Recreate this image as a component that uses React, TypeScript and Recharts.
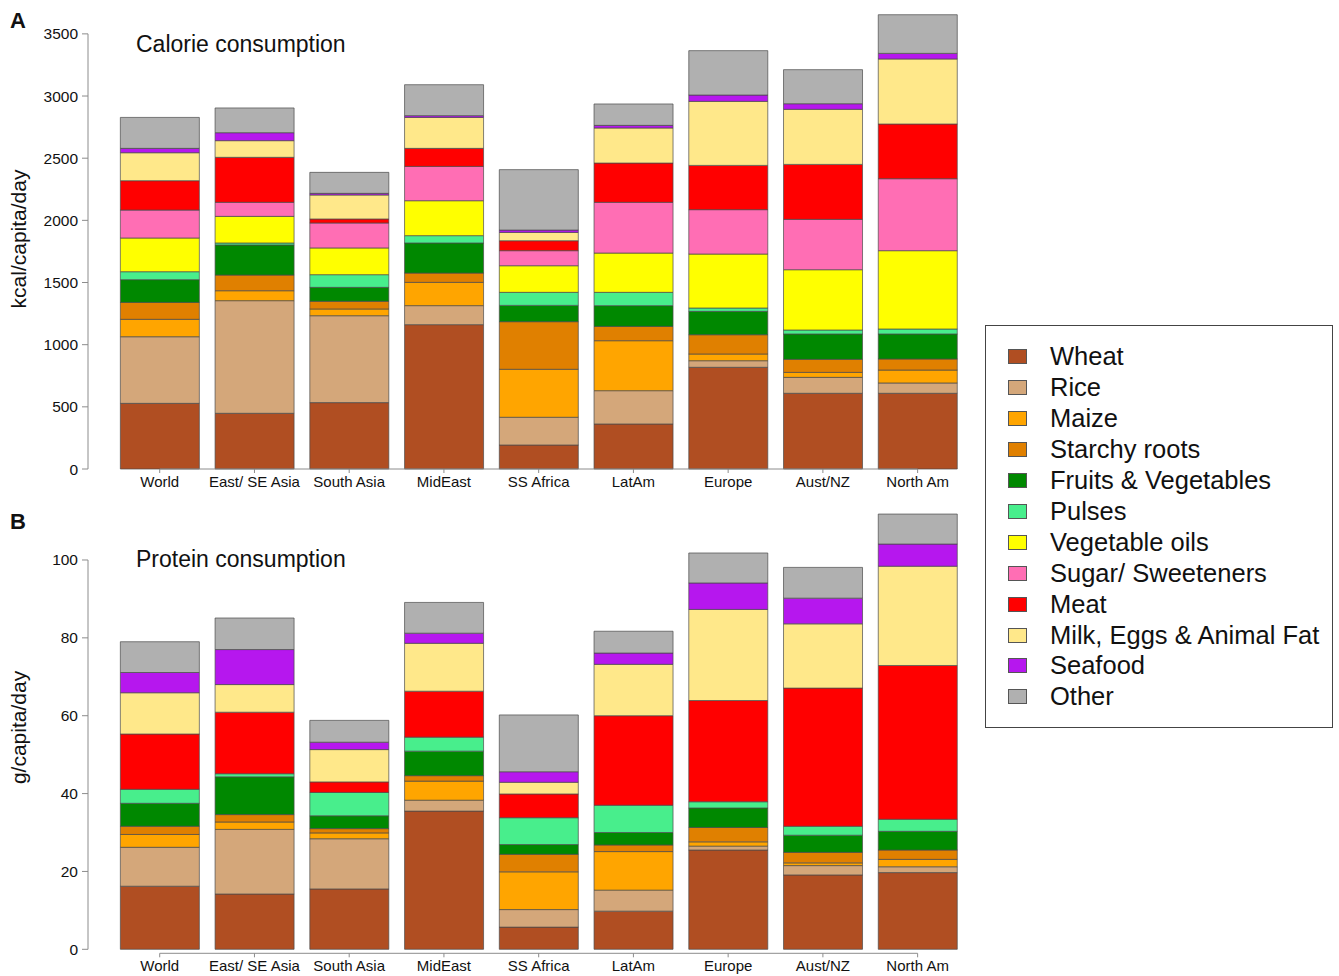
import React from 'react';
import { BarChart, Bar, XAxis, YAxis, ReferenceLine } from 'recharts';

const regions = ['World', 'East/ SE Asia', 'South Asia', 'MidEast', 'SS Africa', 'LatAm', 'Europe', 'Aust/NZ', 'North Am'];

const foodGroups = [
  'Wheat', 'Rice', 'Maize', 'Starchy roots', 'Fruits & Vegetables', 'Pulses',
  'Vegetable oils', 'Sugar/ Sweeteners', 'Meat', 'Milk, Eggs & Animal Fat', 'Seafood', 'Other',
];

const groupColors = [
  '#b04e22', '#d4a77a', '#ffa500', '#e08000', '#008800', '#48ee8c',
  '#ffff00', '#ff6eb4', '#ff0000', '#ffe88a', '#b617ee', '#b0b0b0',
];

// calories, kcal/capita/day
const kcalWheat = [528, 448, 534, 1161, 193, 362, 818, 609, 609];
const kcalRice = [536, 906, 699, 153, 223, 268, 53, 128, 83];
const kcalMaize = [140, 80, 54, 187, 386, 402, 54, 40, 104];
const kcalRoots = [136, 126, 62, 75, 383, 115, 155, 105, 89];
const kcalFruitVeg = [183, 242, 112, 242, 131, 167, 188, 204, 201];
const kcalPulses = [64, 16, 102, 59, 105, 107, 27, 32, 40];
const kcalVegOils = [271, 214, 215, 281, 214, 316, 434, 485, 630];
const kcalSugar = [225, 113, 201, 276, 121, 408, 357, 405, 579];
const kcalMeat = [236, 362, 32, 145, 80, 316, 356, 442, 440];
const kcalMilk = [225, 134, 193, 249, 67, 282, 515, 443, 523];
const kcalSeafood = [35, 64, 13, 14, 19, 21, 51, 45, 45];
const kcalOther = [249, 199, 169, 249, 486, 172, 357, 274, 311];

// protein, g/capita/day
const protWheat = [16.2, 14.2, 15.5, 35.5, 5.7, 9.8, 25.5, 19.1, 19.7];
const protRice = [10.0, 16.6, 12.9, 2.8, 4.5, 5.4, 1.0, 2.4, 1.5];
const protMaize = [3.3, 1.9, 1.5, 4.9, 9.7, 9.9, 1.1, 0.7, 1.9];
const protRoots = [2.1, 1.9, 1.1, 1.4, 4.5, 1.7, 3.7, 2.7, 2.4];
const protFruitVeg = [5.9, 9.7, 3.3, 6.3, 2.5, 3.2, 5.0, 4.4, 4.8];
const protPulses = [3.6, 0.8, 6.0, 3.6, 6.9, 7.0, 1.6, 2.3, 3.1];
const protVegOils = [0, 0, 0, 0, 0, 0, 0, 0, 0];
const protSugar = [0, 0, 0, 0, 0, 0, 0, 0, 0];
const protMeat = [14.2, 15.8, 2.7, 11.8, 6.1, 23.0, 26.0, 35.5, 39.5];
const protMilk = [10.6, 7.1, 8.3, 12.3, 3.0, 13.2, 23.4, 16.5, 25.5];
const protSeafood = [5.2, 9.0, 1.9, 2.6, 2.7, 2.9, 6.8, 6.6, 5.7];
const protOther = [7.9, 8.1, 5.6, 7.9, 14.6, 5.6, 7.7, 7.9, 7.7];

const kcalTicks = [0, 500, 1000, 1500, 2000, 2500, 3000, 3500];
const protTicks = [0, 20, 40, 60, 80, 100];

const kcalSeries = [kcalWheat, kcalRice, kcalMaize, kcalRoots, kcalFruitVeg, kcalPulses, kcalVegOils, kcalSugar, kcalMeat, kcalMilk, kcalSeafood, kcalOther];
const protSeries = [protWheat, protRice, protMaize, protRoots, protFruitVeg, protPulses, protVegOils, protSugar, protMeat, protMilk, protSeafood, protOther];

const buildRows = (series: number[][]) =>
  regions.map((name, i) => {
    const row: any = { idx: i, name };
    series.forEach((s, k) => { row['g' + k] = s[i]; });
    return row;
  });

const FONT = '"Liberation Sans", Arial, Helvetica, sans-serif';
const AXIS = '#8c8c8c';
const X_MIN = -0.757;
const X_MAX = 8.5;

const Panel = ({ rows, ticks, yMax, yLabel, height, top, xAxisH, drop, dropValue }: any) => (
  <BarChart
    width={980}
    height={height}
    data={rows}
    margin={{ top, right: 15, bottom: 0, left: 0 }}
  >
    <XAxis
      type="number"
      dataKey="idx"
      domain={[X_MIN, X_MAX]}
      ticks={regions.map((_, i) => i)}
      interval={0}
      tickFormatter={(v: number) => regions[v]}
      axisLine={false}
      tickLine={{ stroke: AXIS }}
      tickSize={4}
      tickMargin={3}
      height={xAxisH}
      tick={{ fill: '#111', fontSize: 15, fontFamily: FONT }}
    />
    <YAxis
      type="number"
      domain={[0, yMax]}
      ticks={ticks}
      interval={0}
      width={88}
      axisLine={false}
      tickLine={{ stroke: AXIS }}
      tickSize={6}
      tickMargin={4}
      padding={{ top: 0, bottom: drop }}
      tick={{ fill: '#111', fontSize: 15.5, fontFamily: FONT }}
      label={{
        value: yLabel,
        angle: -90,
        position: 'insideLeft',
        offset: 19,
        style: { textAnchor: 'middle', fontSize: 21, fontFamily: FONT, fill: '#111' },
      }}
    />
    <ReferenceLine
      segment={[{ x: X_MIN, y: 0 }, { x: X_MIN, y: ticks[ticks.length - 1] }]}
      stroke={AXIS}
      ifOverflow="visible"
    />
    <ReferenceLine
      segment={[{ x: 0, y: dropValue }, { x: regions.length - 1, y: dropValue }]}
      stroke={AXIS}
      ifOverflow="visible"
    />
    {foodGroups.map((g, k) => (
      <Bar
        key={g}
        dataKey={'g' + k}
        name={g}
        stackId="diet"
        fill={groupColors[k]}
        stroke="#4a4a4a"
        strokeWidth={0.7}
        barSize={79}
        isAnimationActive={false}
      />
    ))}
  </BarChart>
);

const textBase: React.CSSProperties = { position: 'absolute', fontFamily: FONT, color: '#111', whiteSpace: 'nowrap' };

export default function App() {
  return (
    <div style={{ position: 'absolute', left: 0, top: 0, width: 1339, height: 976, background: '#fff', overflow: 'hidden' }}>
      <div style={{ position: 'absolute', left: 0, top: 0 }}>
        <Panel rows={buildRows(kcalSeries)} ticks={kcalTicks} yMax={3700} yLabel="kcal/capita/day"
          height={500} top={9} xAxisH={31} drop={0} dropValue={0} />
      </div>
      <div style={{ position: 'absolute', left: 0, top: 500 }}>
        <Panel rows={buildRows(protSeries)} ticks={protTicks} yMax={115} yLabel="g/capita/day"
          height={490} top={1.6} xAxisH={36.7} drop={4} dropValue={-1.03} />
      </div>

      <div style={{ ...textBase, left: 10, top: 8, fontSize: 22, fontWeight: 'bold', lineHeight: '26px' }}>A</div>
      <div style={{ ...textBase, left: 10, top: 509, fontSize: 22, fontWeight: 'bold', lineHeight: '26px' }}>B</div>
      <div style={{ ...textBase, left: 136, top: 31, fontSize: 23, lineHeight: '26px' }}>Calorie consumption</div>
      <div style={{ ...textBase, left: 136, top: 546, fontSize: 23, lineHeight: '26px' }}>Protein consumption</div>

      <div style={{ position: 'absolute', left: 985, top: 325, width: 348, height: 403, border: '1px solid #444', boxSizing: 'border-box' }}>
        {foodGroups.map((g, k) => (
          <div key={g} style={{ position: 'absolute', left: 22, top: 15.5 + k * 30.9, height: 30.9, display: 'flex', alignItems: 'center' }}>
            <span style={{ width: 19, height: 15, background: groupColors[k], border: '1px solid #555', boxSizing: 'border-box', display: 'inline-block' }} />
            <span style={{ marginLeft: 23, fontSize: 25.5, fontFamily: FONT, color: '#111', whiteSpace: 'nowrap' }}>{g}</span>
          </div>
        ))}
      </div>
    </div>
  );
}
